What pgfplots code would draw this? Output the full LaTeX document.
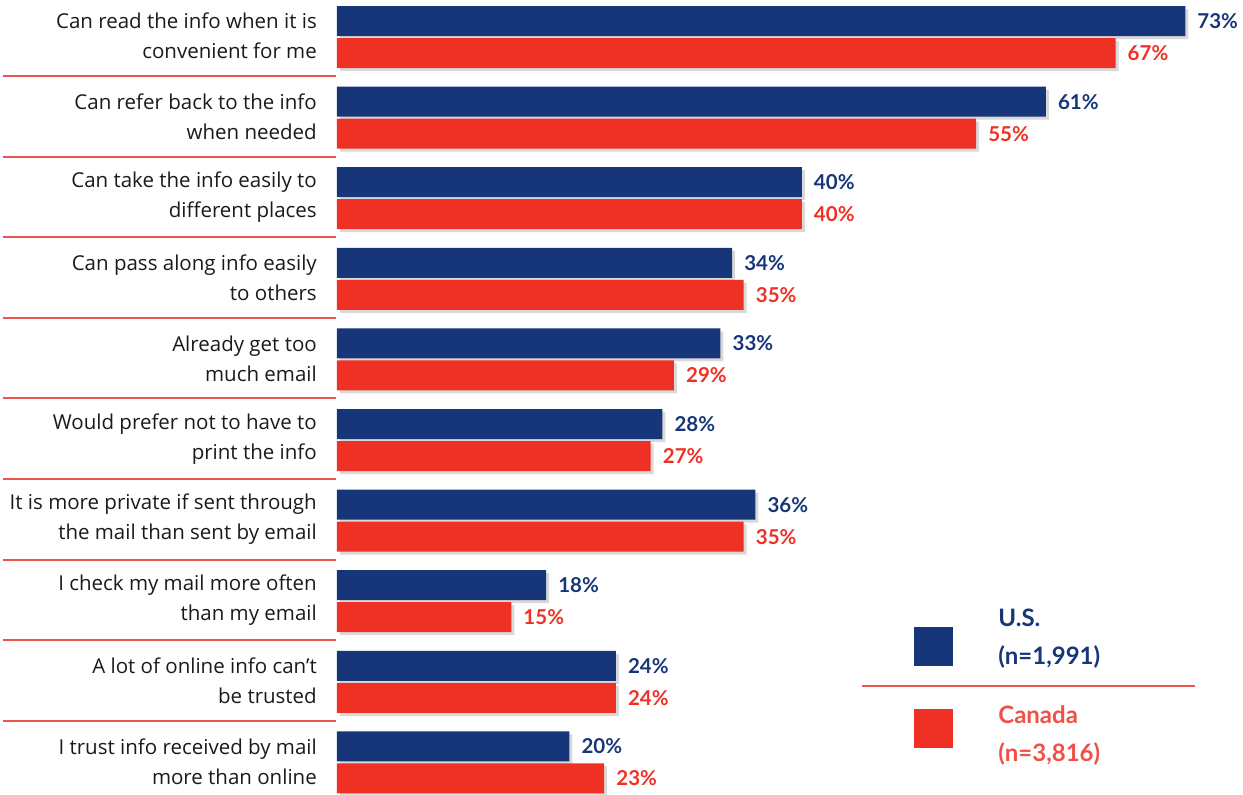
\documentclass[border=0pt]{standalone}
\usepackage{pgfplots}
\pgfplotsset{compat=1.18}
\usepackage{fontspec}
\setmainfont{Lato}
\newfontfamily\labelfont{Open Sans}
\usetikzlibrary{shadows}

\definecolor{usblue}{RGB}{23,54,122}
\definecolor{cared}{RGB}{238,49,36}
\definecolor{sepred}{RGB}{236,84,80}
\definecolor{labgray}{RGB}{26,26,26}

\begin{document}
\begin{tikzpicture}
\useasboundingbox (0,0) rectangle (1243pt,-795pt);
\begin{axis}[
anchor=north west, at={(0,0)},
x=11.62pt, y=1pt, y dir=reverse,
xmin=-29.0, xmax=77.97,
ymin=0, ymax=795,
axis lines=none,
clip=false,
xbar, bar shift=0pt, bar width=30pt,
point meta=x,
/pgf/number format/assume math mode=true,
nodes near coords={\pgfmathprintnumber{\pgfplotspointmeta}\%},
every node near coord/.append style={anchor=west, inner sep=0pt, xshift=12pt,
  font=\fontsize{20.5}{20}\selectfont\bfseries},
]
% U.S.
\addplot[draw=none, fill=usblue, text=usblue,
  drop shadow={shadow xshift=3pt, shadow yshift=-3pt, opacity=0.3}]
coordinates {
(73,21) (61,101.6) (40,182.2) (34,262.8) (33,343.4)
(28,424) (36,504.6) (18,585.2) (24,665.8) (20,746.4)
};
% Canada
\addplot[draw=none, fill=cared, text=cared,
  drop shadow={shadow xshift=3pt, shadow yshift=-3pt, opacity=0.3}]
coordinates {
(67,53) (55,133.6) (40,214.2) (35,294.8) (29,375.4)
(27,456) (35,536.6) (15,617.2) (24,697.8) (23,778.4)
};

% separators between categories
\foreach \yy in {76,156.6,237.2,317.8,398.4,479,559.6,640.2,720.8}{
  \edef\tmp{\noexpand\draw[sepred, line width=2pt] (axis cs:-28.75,\yy) -- (axis cs:-0.1,\yy);}
  \tmp
}

% category labels
\begin{scope}[every node/.style={anchor=east, align=right, text=labgray,
  font=\labelfont\fontsize{20.5}{30}\selectfont, inner sep=0pt}]
\node at (axis cs:-1.72,36) {Can read the info when it is\\convenient for me};
\node at (axis cs:-1.72,116.6) {Can refer back to the info\\when needed};
\node at (axis cs:-1.72,197.2) {Can take the info easily to\\different places};
\node at (axis cs:-1.72,277.8) {Can pass along info easily\\to others};
\node at (axis cs:-1.72,358.4) {Already get too\\much email};
\node at (axis cs:-1.72,439) {Would prefer not to have to\\print the info};
\node at (axis cs:-1.72,519.6) {It is more private if sent through\\the mail than sent by email};
\node at (axis cs:-1.72,600.2) {I check my mail more often\\than my email};
\node at (axis cs:-1.72,680.8) {A lot of online info can’t\\be trusted};
\node at (axis cs:-1.72,761.4) {I trust info received by mail\\more than online};
\end{scope}

% legend
\fill[usblue] (axis cs:49.66,627) rectangle (axis cs:53.01,666);
\fill[cared] (axis cs:49.66,709) rectangle (axis cs:53.01,748);
\draw[sepred, line width=2pt] (axis cs:45.18,686) -- (axis cs:73.83,686);
\node[anchor=west, align=left, inner sep=0pt, text=usblue,
  font=\fontsize{24}{38}\selectfont\bfseries] at (axis cs:56.9,639) {U.S.\\(n=1,991)};
\node[anchor=west, align=left, inner sep=0pt, text=cared!85!white,
  font=\fontsize{24}{38}\selectfont\bfseries] at (axis cs:56.9,735) {Canada\\(n=3,816)};
\end{axis}
\end{tikzpicture}
\end{document}
